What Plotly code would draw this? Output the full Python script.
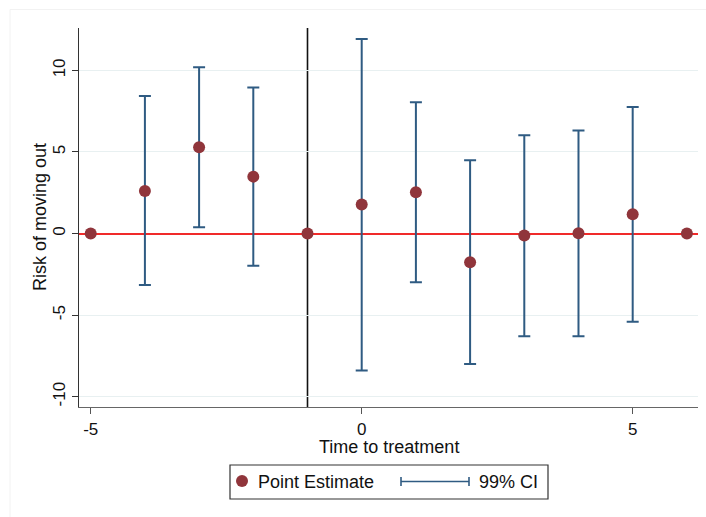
import plotly.graph_objects as go

# ---- data ----
periods = [-5, -4, -3, -2, -1, 0, 1, 2, 3, 4, 5, 6]
estimate = [0.0, 2.61, 5.29, 3.49, 0.0, 1.78, 2.53, -1.76, -0.12, 0.02, 1.18, 0.0]
ci_low = [None, -3.15, 0.39, -1.98, None, -8.40, -2.98, -7.99, -6.29, -6.29, -5.40, None]
ci_high = [None, 8.43, 10.19, 8.96, None, 11.93, 8.05, 4.49, 6.02, 6.31, 7.76, None]
x_ticks = [-5, 0, 5]
y_ticks = [-10, -5, 0, 5, 10]
treat_line = -1

MAROON = "#90353b"
NAVY = "#2f5b82"
FONT = "Liberation Sans, Arial, sans-serif"

W, H = 706, 517
L, R, T, B = 79, 698, 28, 407  # plot area in pixels


def px(x):
    return (x - L) / (R - L)


def py(y):
    return (B - y) / (B - T)


ci_idx = [i for i, v in enumerate(ci_low) if v is not None]
ci_x = [periods[i] for i in ci_idx]
ci_y = [estimate[i] for i in ci_idx]
ci_plus = [ci_high[i] - estimate[i] for i in ci_idx]
ci_minus = [estimate[i] - ci_low[i] for i in ci_idx]

fig = go.Figure()
fig.add_trace(go.Scatter(
    x=ci_x, y=ci_y, mode="markers",
    marker=dict(size=1, opacity=0, color=NAVY),
    error_y=dict(type="data", symmetric=False, array=ci_plus, arrayminus=ci_minus,
                 color=NAVY, thickness=2, width=6),
    showlegend=False, hoverinfo="skip",
))
fig.add_trace(go.Scatter(
    x=periods, y=estimate, mode="markers",
    marker=dict(size=12, color=MAROON),
    showlegend=False,
))

shapes = [
    # treatment line
    dict(type="line", xref="x", yref="paper", x0=treat_line, x1=treat_line, y0=0, y1=1,
         line=dict(color="#111111", width=1.6), layer="between"),
    # faint outer frame (top + left)
    dict(type="line", xref="paper", yref="paper", x0=px(10), x1=px(706), y0=py(9.5), y1=py(9.5),
         line=dict(color="#f2f2f2", width=1)),
    dict(type="line", xref="paper", yref="paper", x0=px(10), x1=px(10), y0=py(9.5), y1=py(517),
         line=dict(color="#f2f2f2", width=1)),
    # legend box
    dict(type="rect", xref="paper", yref="paper", x0=px(230), x1=px(548), y0=py(465), y1=py(499),
         line=dict(color="#333333", width=1.2), fillcolor="white"),
    dict(type="circle", xref="paper", yref="paper", x0=px(236), x1=px(248), y0=py(475), y1=py(487),
         line=dict(color=MAROON, width=0), fillcolor=MAROON),
    dict(type="line", xref="paper", yref="paper", x0=px(401), x1=px(469), y0=py(481.5), y1=py(481.5),
         line=dict(color=NAVY, width=1.6)),
    dict(type="line", xref="paper", yref="paper", x0=px(401), x1=px(401), y0=py(477), y1=py(486),
         line=dict(color=NAVY, width=1.6)),
    dict(type="line", xref="paper", yref="paper", x0=px(469), x1=px(469), y0=py(477), y1=py(486),
         line=dict(color=NAVY, width=1.6)),
]

annotations = [
    dict(text="Time to treatment", xref="paper", yref="paper", x=px(389), y=py(447),
         xanchor="center", yanchor="middle", showarrow=False,
         font=dict(family=FONT, size=18, color="#111111")),
    dict(text="Risk of moving out", xref="paper", yref="paper", x=px(40), y=py(217),
         xanchor="center", yanchor="middle", showarrow=False, textangle=-90,
         font=dict(family=FONT, size=18, color="#111111")),
    dict(text="Point Estimate", xref="paper", yref="paper", x=px(256), y=py(482),
         xanchor="left", yanchor="middle", showarrow=False,
         font=dict(family=FONT, size=18, color="#111111")),
    dict(text="99% CI", xref="paper", yref="paper", x=px(477), y=py(482),
         xanchor="left", yanchor="middle", showarrow=False,
         font=dict(family=FONT, size=18, color="#111111")),
]

fig.update_layout(
    width=W, height=H,
    margin=dict(l=L, r=W - R, t=T, b=H - B),
    paper_bgcolor="white", plot_bgcolor="white",
    font=dict(family=FONT, size=17, color="#111111"),
    shapes=shapes, annotations=annotations,
    showlegend=False,
)
fig.update_xaxes(
    range=[-5.216, 6.205], tickvals=x_ticks, ticktext=[str(v) for v in x_ticks],
    ticks="outside", ticklen=6,
    tickcolor="#555555", tickwidth=1.2, showgrid=False, zeroline=False,
    showline=True, linecolor="#666666", linewidth=1.4,
    tickfont=dict(family=FONT, size=17, color="#111111"),
)
fig.update_yaxes(
    range=[-10.63, 12.6], tickvals=y_ticks, ticktext=[str(v) for v in y_ticks],
    ticks="outside", ticklen=6,
    tickcolor="#333333", tickwidth=1.2, showgrid=True, gridcolor="#e8f0f1", gridwidth=1,
    zeroline=True, zerolinecolor="#f02a2a", zerolinewidth=1.8,
    showline=True, linecolor="#333333", linewidth=1.4,
    tickangle=-90, tickfont=dict(family=FONT, size=17, color="#111111"),
)

fig.write_html("out.html")
